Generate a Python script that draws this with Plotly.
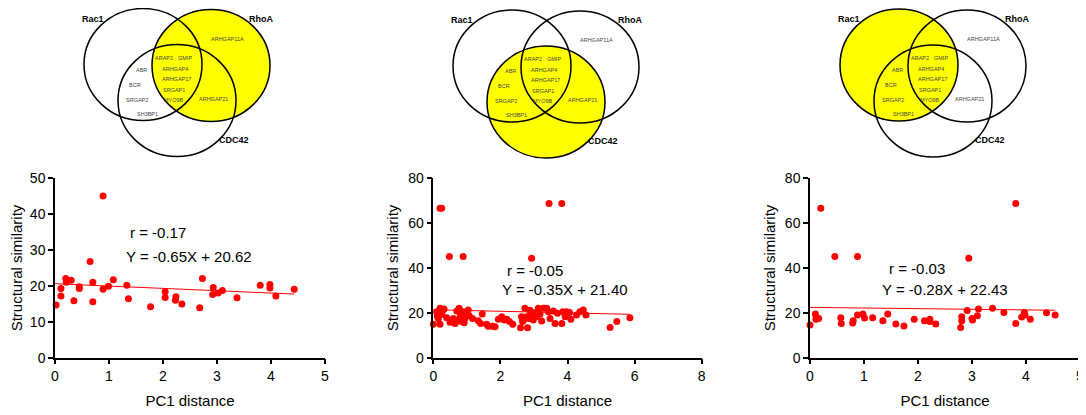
import plotly.graph_objects as go

# ---------------- data ----------------
set_names = ["Rac1", "RhoA", "CDC42"]
highlighted_sets = ["RhoA", "CDC42", "Rac1"]
genes = ["ARHGAP11A", "ARAP2", "GMIP", "ABR", "ARHGAP4", "ARHGAP17",
         "BCR", "SRGAP1", "SRGAP2", "MYO9B", "ARHGAP21", "SH3BP1"]

x_rhoa = [0.02, 0.11, 0.11, 0.20, 0.21, 0.30, 0.35, 0.45, 0.45, 0.65, 0.70, 0.70,
          0.89, 0.89, 0.99, 1.08, 1.33, 1.36, 1.77, 2.04, 2.04, 2.24, 2.23, 2.35,
          2.68, 2.73, 2.93, 2.92, 3.02, 3.10, 3.37, 3.80, 3.98, 3.98, 4.09, 4.43]
y_rhoa = [14.7, 17.2, 19.3, 22.1, 21.0, 21.6, 15.9, 19.8, 19.3, 26.8, 21.0, 15.6,
          45.1, 19.1, 19.9, 21.7, 20.2, 16.4, 14.2, 18.4, 16.8, 17.0, 16.0, 15.0,
          13.9, 22.1, 19.6, 17.6, 18.0, 18.7, 16.7, 20.2, 20.4, 19.4, 17.2, 19.1]

x_cdc42 = [0.20, 0.25, 0.48, 0.89, 2.93, 3.45, 3.83,
           0.00, 0.10, 0.15, 0.20, 0.20, 0.25, 0.32, 0.40, 0.55, 0.60, 0.65, 0.70,
           0.77, 0.80, 0.85, 0.87, 0.94, 0.97, 1.04, 1.07, 1.17, 1.34, 1.41, 1.46,
           1.59, 1.64, 1.77, 1.84, 1.94, 2.04, 2.11, 2.19, 2.27, 2.37, 2.60, 2.63,
           2.66, 2.73, 2.78, 2.81, 2.86, 2.90, 2.94, 2.98, 3.03, 3.08, 3.13, 3.23,
           3.28, 3.38, 3.43, 3.48, 3.58, 3.63, 3.70, 3.83, 3.86, 3.93, 3.98, 4.06,
           4.10, 4.27, 4.37, 4.47, 4.55, 5.27, 5.47, 5.86,
           0.12, 0.28, 0.50, 0.72, 0.82, 0.92, 2.70, 2.88, 3.00, 3.18, 3.95]
y_cdc42 = [66.6, 66.6, 45.1, 45.1, 44.3, 68.8, 68.8,
           14.9, 20.5, 17.5, 14.9, 22.0, 19.3, 21.7, 17.8, 16.4, 17.5, 15.3, 20.8,
           22.0, 18.3, 16.1, 19.3, 17.5, 20.5, 21.3, 18.7, 17.5, 16.5, 15.3, 19.5,
           14.9, 14.0, 14.0, 13.8, 17.2, 18.3, 16.8, 17.2, 16.1, 14.9, 13.4, 18.3,
           16.1, 22.0, 18.3, 13.4, 17.5, 20.5, 19.0, 16.8, 20.1, 18.3, 22.0, 16.4,
           22.0, 22.0, 20.5, 17.5, 20.8, 15.3, 19.8, 15.3, 20.5, 18.3, 20.5, 20.2,
           17.2, 19.0, 20.5, 21.3, 19.0, 13.5, 16.1, 17.8,
           18.5, 21.0, 15.8, 16.6, 20.9, 15.6, 16.9, 21.2, 18.8, 19.4, 19.1]

x_rac1 = [0.00, 0.10, 0.11, 0.16, 0.20, 0.46, 0.57, 0.58, 0.79, 0.80, 0.88, 0.88,
          0.98, 1.01, 1.16, 1.35, 1.44, 1.59, 1.74, 1.93, 2.12, 2.22, 2.22, 2.33,
          2.79, 2.81, 2.81, 2.91, 2.94, 3.00, 3.01, 3.10, 3.12, 3.38, 3.59, 3.81,
          3.81, 3.92, 3.97, 3.98, 4.08, 4.38, 4.54]
y_rac1 = [14.6, 19.5, 17.2, 17.5, 66.6, 45.1, 17.8, 15.2, 15.5, 16.5, 45.1, 19.0,
          19.5, 17.7, 17.8, 16.5, 19.5, 15.0, 14.1, 17.2, 16.5, 17.2, 16.1, 15.0,
          13.5, 16.5, 18.3, 21.0, 44.3, 17.5, 16.8, 18.7, 21.7, 22.0, 20.2, 15.3,
          68.8, 18.1, 20.2, 19.0, 17.2, 20.1, 19.0]

r_values = [-0.17, -0.05, -0.03]
slopes = [-0.65, -0.35, -0.28]
intercepts = [20.62, 21.40, 22.43]

x_series = [x_rhoa, x_cdc42, x_rac1]
y_series = [y_rhoa, y_cdc42, y_rac1]
x_max = [5, 8, 5]
y_max = [50, 80, 80]
x_step = [1, 2, 1]
y_step = [10, 20, 20]

# ---------------- layout helpers ----------------
# The page body has an 8px margin, so the figure is placed at (8, 8).
OFF = 8
W, H = 1086 - OFF, 415 - OFF
FONT = "Liberation Sans, Arial, sans-serif"
RED = "#ff0000"


def px(x):
    return (x - OFF) / W


def py(y):
    return 1 - (y - OFF) / H


panel_x = [(55, 325), (433.3, 701.7), (810, 1080)]
plot_top, plot_bottom = 178.3, 357.7
ann_pos = [((1.35, 34.8), (1.28, 28.1)),
           ((2.14, 39.1), (1.99, 30.6)),
           ((1.43, 39.6), (1.30, 30.2))]

fig = go.Figure()

for i in range(3):
    ax = "" if i == 0 else str(i + 1)
    xs, ys = x_series[i], y_series[i]
    fig.add_trace(go.Scatter(
        x=xs, y=ys, mode="markers", xaxis="x" + ax, yaxis="y" + ax,
        marker=dict(color=RED, size=7, line=dict(width=0)),
        cliponaxis=False, showlegend=False, hoverinfo="x+y"))
    xl = [0, max(xs)]
    fig.add_trace(go.Scatter(
        x=xl, y=[slopes[i] * v + intercepts[i] for v in xl],
        mode="lines", xaxis="x" + ax, yaxis="y" + ax,
        line=dict(color=RED, width=1), showlegend=False, hoverinfo="skip"))

    x0, x1 = panel_x[i]
    common = dict(showline=True, linecolor="black", linewidth=1.5,
                  ticks="outside", ticklen=5, tickwidth=1.5, tickcolor="black",
                  showgrid=False, zeroline=False, automargin=False,
                  tickfont=dict(family=FONT, size=14, color="black"))
    fig.layout["xaxis" + ax] = dict(
        domain=[px(x0), px(x1)], range=[0, x_max[i]], dtick=x_step[i],
        anchor="y" + ax,
        title=dict(text="PC1 distance", standoff=12,
                   font=dict(family=FONT, size=15, color="black")),
        **common)
    fig.layout["yaxis" + ax] = dict(
        domain=[py(plot_bottom), py(plot_top)], range=[0, y_max[i]],
        dtick=y_step[i], anchor="x" + ax,
        title=dict(text="Structural similarity", standoff=6,
                   font=dict(family=FONT, size=15, color="black")),
        **common)

    (rx, ry), (ex, ey) = ann_pos[i]
    fig.add_annotation(x=rx, y=ry, xref="x" + ax, yref="y" + ax,
                       text=f"r = {r_values[i]:.2f}", showarrow=False,
                       xanchor="left", font=dict(family=FONT, size=15, color="black"))
    fig.add_annotation(x=ex, y=ey, xref="x" + ax, yref="y" + ax,
                       text=f"Y = {slopes[i]:.2f}X + {intercepts[i]:.2f}",
                       showarrow=False, xanchor="left",
                       font=dict(family=FONT, size=15, color="black"))

# ---------------- Venn diagrams (hidden pixel-scaled axis) ----------------
venn_h = 165
fig.layout["xaxis4"] = dict(domain=[0, 1], range=[OFF, OFF + W], visible=False,
                            anchor="y4", fixedrange=True, automargin=False)
fig.layout["yaxis4"] = dict(domain=[py(venn_h), 1], range=[venn_h, OFF],
                            visible=False, anchor="x4", fixedrange=True,
                            automargin=False)

venn_anchor = [(143, 64.5), (512, 66), (899, 65)]
circle_offset = {"Rac1": (0, 0), "RhoA": (68, 1), "CDC42": (34, 36)}
circle_rx, circle_ry = 59, 56
label_offset = {"Rac1": (-50, -46), "RhoA": (118, -46), "CDC42": (91, 75)}
gene_offset = [(84, -26), (21, -7), (42, -7), (-2, 5), (32, 4), (33, 14),
               (-8, 20), (31, 25), (-6, 35), (31, 35), (70, 34), (4, 49)]

for i in range(3):
    axx, axy = venn_anchor[i]
    hl = highlighted_sets[i]
    ox, oy = circle_offset[hl]
    fig.add_shape(type="circle", xref="x4", yref="y4",
                  x0=axx + ox - circle_rx, x1=axx + ox + circle_rx,
                  y0=axy + oy - circle_ry, y1=axy + oy + circle_ry,
                  fillcolor="#ffff00", line=dict(width=0), layer="below")
    for s in set_names:
        ox, oy = circle_offset[s]
        fig.add_shape(type="circle", xref="x4", yref="y4",
                      x0=axx + ox - circle_rx, x1=axx + ox + circle_rx,
                      y0=axy + oy - circle_ry, y1=axy + oy + circle_ry,
                      line=dict(color="black", width=1.5), fillcolor="rgba(0,0,0,0)")
        lx, ly = label_offset[s]
        fig.add_annotation(x=axx + lx, y=axy + ly, xref="x4", yref="y4",
                           text=f"<b>{s}</b>", showarrow=False,
                           font=dict(family=FONT, size=9, color="black"))
    for g, (gx, gy) in zip(genes, gene_offset):
        fig.add_annotation(x=axx + gx, y=axy + gy, xref="x4", yref="y4",
                           text=g, showarrow=False,
                           font=dict(family=FONT, size=5.5, color="#444444"))

fig.update_layout(template="none", width=W, height=H, autosize=False,
                  margin=dict(l=0, r=0, t=0, b=0, pad=0),
                  paper_bgcolor="white", plot_bgcolor="white",
                  showlegend=False)

fig.write_html("out.html")
